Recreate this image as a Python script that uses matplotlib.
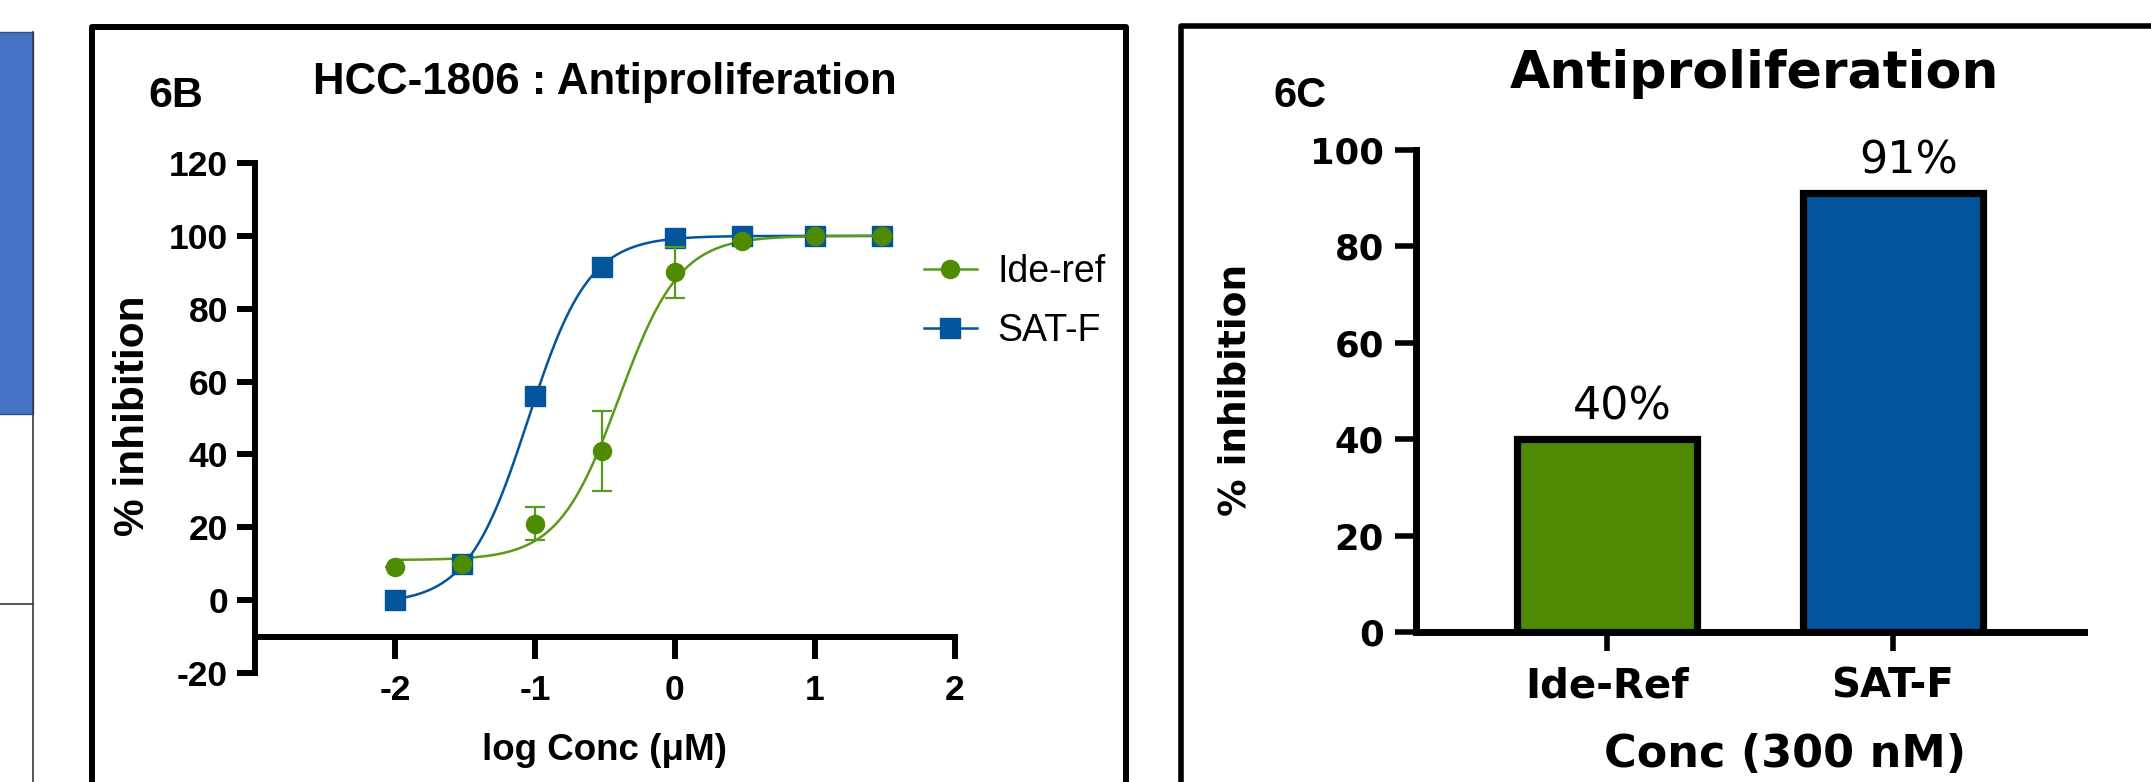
import numpy as np
import matplotlib
matplotlib.use("Agg")
import matplotlib.pyplot as plt
from matplotlib.lines import Line2D
from matplotlib.patches import Rectangle

plt.rcParams['axes.unicode_minus'] = False

# ---------------- data ----------------
conc_uM = [0.01, 0.03, 0.1, 0.3, 1, 3, 10, 30]
ide_ref_mean = [9, 10, 21, 41, 90, 98.5, 100, 100]
ide_ref_err = [0, 0, 4.5, 11, 7, 0, 0, 0]
sat_f_mean = [0, 10, 56, 91.5, 99.5, 100, 100, 100]

# 4-parameter logistic fit parameters
ide_ref_fit = {"bottom": 11, "top": 100, "logic50": -0.40, "hill": 2.0}
sat_f_fit = {"bottom": -1, "top": 100, "logic50": -1.05, "hill": 2.0}

bar_categories = ["Ide-Ref", "SAT-F"]
bar_values = [40, 91]
bar_labels = ["40%", "91%"]

xticks_6b = [-2, -1, 0, 1, 2]
yticks_6b = [-20, 0, 20, 40, 60, 80, 100, 120]
yticks_6c = [0, 20, 40, 60, 80, 100]

GREEN = "#4F8B00"
GREEN_LINE = "#5A9A1A"
BLUE = "#02559A"
OFFICE_BLUE = "#4472C4"

W, H = 2151, 782


def fx(x):
    return x / W


def fy(y):
    return 1 - y / H


def logistic(x, p):
    return p["bottom"] + (p["top"] - p["bottom"]) / (1 + 10 ** ((p["logic50"] - x) * p["hill"]))


fig = plt.figure(figsize=(W / 100, H / 100), dpi=100)

# ---------- background decorations (panel frames) ----------
bg = fig.add_axes([0, 0, 1, 1], zorder=0)
bg.set_xlim(0, W)
bg.set_ylim(H, 0)
bg.axis("off")
bg.add_patch(Rectangle((-5, 32), 38, 382, facecolor=OFFICE_BLUE, edgecolor="#2F528F", lw=1))
bg.plot([33, 33], [32, 800], color="#3a3a3a", lw=1.2)
bg.plot([0, 33], [604, 604], color="#3a3a3a", lw=1.2)
bg.plot([91.5, 91.5, 1126, 1126], [800, 27, 27, 800], color="black", lw=4.3,
        solid_joinstyle="round")
bg.plot([1180.5, 1180.5, 2170], [800, 25.5, 25.5], color="black", lw=4.0,
        solid_joinstyle="round")

# ---------------- panel 6B ----------------
FB = "Liberation Sans"
ax1 = fig.add_axes([fx(255), fy(673), (955 - 255) / W, (673 - 163) / H], zorder=2)
ax1.patch.set_alpha(0)
ax1.set_xlim(-3, 2)
ax1.set_ylim(-20, 120)
for s in ["top", "right"]:
    ax1.spines[s].set_visible(False)
ax1.spines["bottom"].set_position(("data", -10))
ax1.spines["bottom"].set_linewidth(4.3)
ax1.spines["left"].set_linewidth(4.3)
ax1.set_xticks(xticks_6b)
ax1.set_yticks(yticks_6b)
ax1.tick_params(axis="y", direction="out", length=13, width=4.3, pad=6.5, labelsize=25.5)
ax1.tick_params(axis="x", direction="out", length=16, width=4.3, pad=11, labelsize=25.5)
for lbl in ax1.get_xticklabels() + ax1.get_yticklabels():
    lbl.set_fontfamily(FB)
    lbl.set_fontweight("bold")

logx = np.log10(conc_uM)
xs = np.linspace(logx[0], logx[-1], 400)
ax1.plot(xs, logistic(xs, sat_f_fit), color=BLUE, lw=1.8, zorder=3)
ax1.plot(xs, logistic(xs, ide_ref_fit), color=GREEN_LINE, lw=1.8, zorder=3)
ax1.plot(logx, sat_f_mean, "s", color=BLUE, ms=14, zorder=4)
ax1.errorbar(logx, ide_ref_mean, yerr=ide_ref_err, fmt="o", color=GREEN, ecolor=GREEN_LINE,
             ms=13, capsize=7, elinewidth=1.6, capthick=1.6, zorder=5)

handles = [
    Line2D([], [], color=GREEN_LINE, lw=1.8, marker="o", ms=13, markerfacecolor=GREEN,
           markeredgecolor=GREEN),
    Line2D([], [], color=BLUE, lw=1.8, marker="s", ms=14),
]
leg = ax1.legend(handles, ["Ide-ref", "SAT-F"], loc="upper left",
                 bbox_to_anchor=(fx(924), fy(254)), bbox_transform=fig.transFigure,
                 frameon=False, borderpad=0, borderaxespad=0, handlelength=1.4,
                 handletextpad=0.55, labelspacing=0.62,
                 prop={"family": FB, "size": 27})

fig.text(fx(605), fy(94), "HCC-1806 : Antiproliferation", ha="center", va="baseline",
         fontsize=31.5, fontweight="bold", family=FB)
fig.text(fx(176), fy(107), "6B", ha="center", va="baseline", fontsize=31,
         fontweight="bold", family=FB)
fig.text(fx(133), fy(416), "% inhibition", ha="center", va="center", rotation=90,
         fontsize=30.5, fontweight="bold", family=FB)
fig.text(fx(605), fy(760), "log Conc (\u03bcM)", ha="center", va="baseline",
         fontsize=26.5, fontweight="bold", family=FB)

# ---------------- panel 6C ----------------
FC = "DejaVu Sans"
ax2 = fig.add_axes([fx(1416), fy(632), (2084 - 1416) / W, (632 - 150) / H], zorder=2)
ax2.patch.set_alpha(0)
xpos = np.arange(len(bar_categories))
ax2.bar(xpos, bar_values, width=0.63, color=[GREEN, BLUE], edgecolor="black", linewidth=5.2,
        zorder=3)
ax2.set_xlim(-0.668, 1.668)
ax2.set_ylim(0, 100)
for s in ["top", "right"]:
    ax2.spines[s].set_visible(False)
ax2.spines["bottom"].set_linewidth(5)
ax2.spines["left"].set_linewidth(5)
ax2.spines["bottom"].set_zorder(4)
ax2.set_xticks(xpos)
ax2.set_xticklabels(bar_categories)
ax2.set_yticks(yticks_6c)
ax2.tick_params(axis="y", direction="out", length=15, width=4, pad=8, labelsize=25.5)
ax2.tick_params(axis="x", direction="out", length=14, width=4, pad=11, labelsize=29)
for lbl in ax2.get_xticklabels() + ax2.get_yticklabels():
    lbl.set_fontfamily(FC)
    lbl.set_fontweight("bold")
for xp, v, t in zip(xpos, bar_values, bar_labels):
    ax2.annotate(t, (xp, v), xytext=(11, 14), textcoords="offset points", ha="center",
                 va="baseline", fontsize=32, family=FC)

fig.text(fx(1755), fy(88), "Antiproliferation", ha="center", va="baseline",
         fontsize=37.5, fontweight="bold", family=FC)
fig.text(fx(1300), fy(107), "6C", ha="center", va="baseline", fontsize=30,
         fontweight="bold", family=FB)
fig.text(fx(1235), fy(390), "% inhibition", ha="center", va="center", rotation=90,
         fontsize=27, fontweight="bold", family=FC)
fig.text(fx(1785), fy(767), "Conc (300 nM)", ha="center", va="baseline",
         fontsize=32, fontweight="bold", family=FC)

fig.savefig("out.png", dpi=100)
